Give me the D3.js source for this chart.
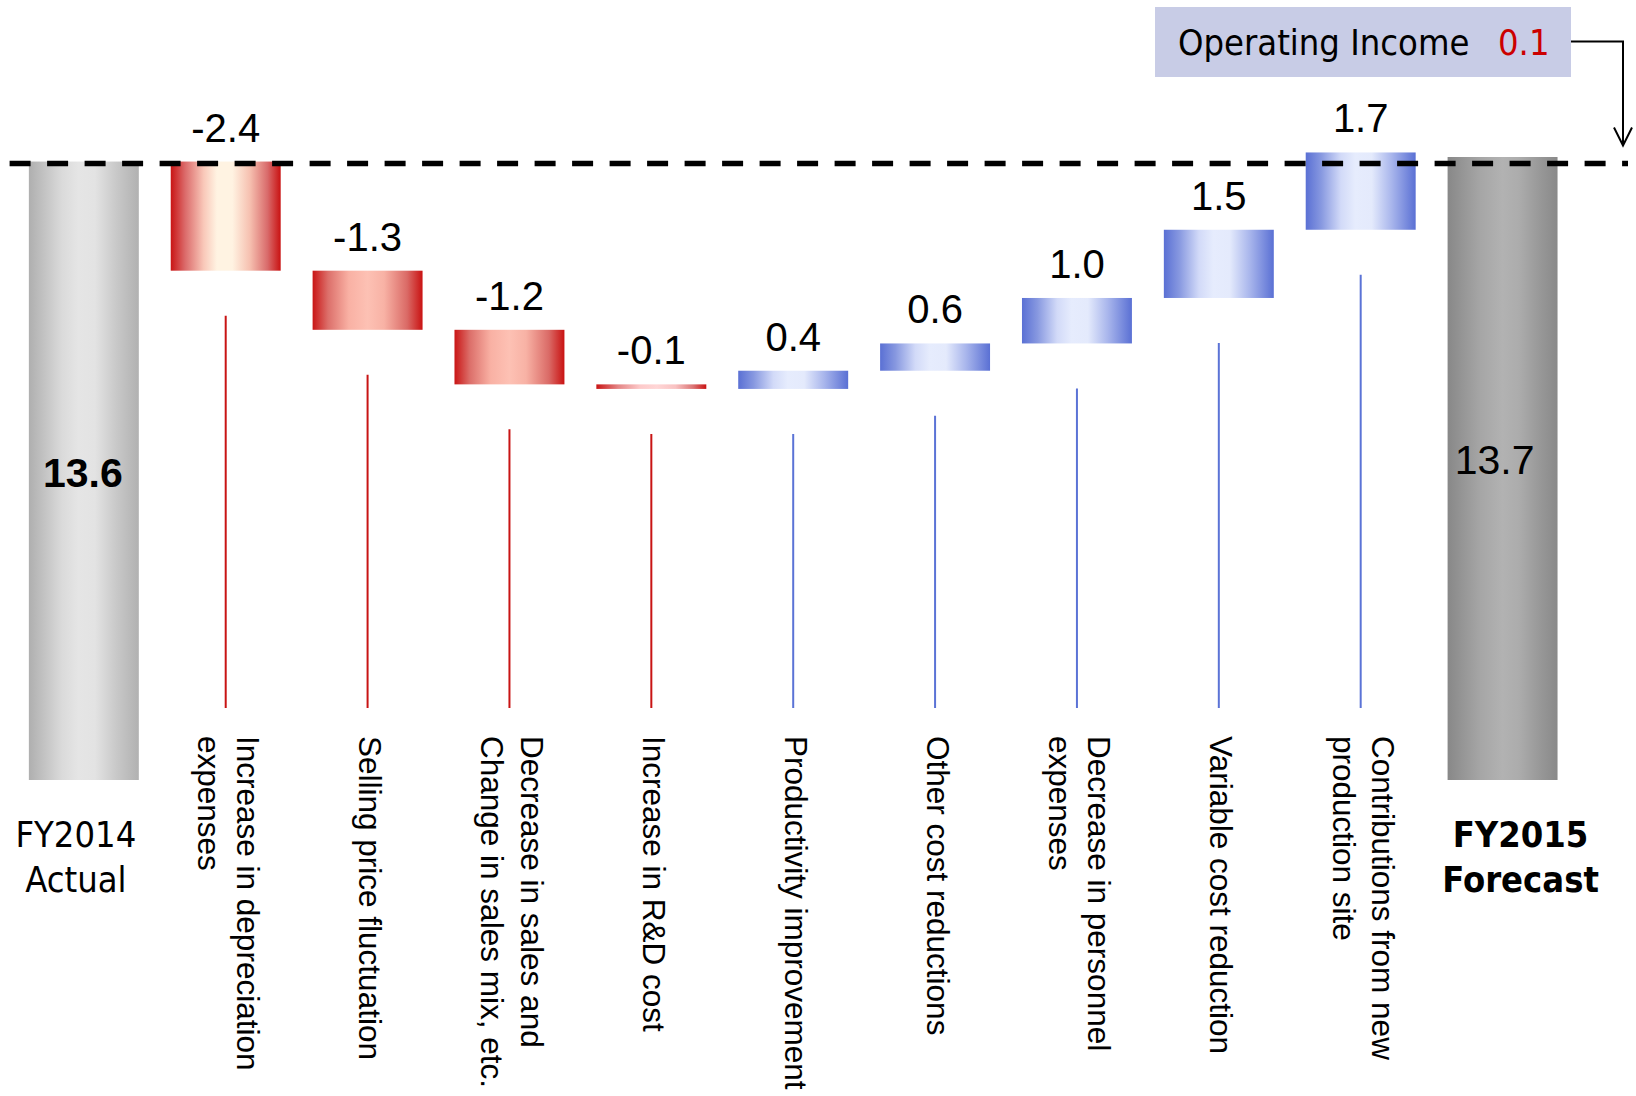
<!DOCTYPE html>
<html>
<head>
<meta charset="utf-8">
<script src="https://cdn.jsdelivr.net/npm/d3@7"></script>
<style>
  body { margin: 0; background: #fff; }
  svg { display: block; }
</style>
</head>
<body>
<svg id="chart" width="1636" height="1096"></svg>
<script>
// ---- data (billion yen) ----
const totalNames = [["FY2014", "Actual"], ["FY2015", "Forecast"]];
const totalValues = [13.6, 13.7];
const stepNames = [
  "Increase in depreciation\nexpenses",
  "Selling price fluctuation",
  "Decrease in sales and\nChange in sales mix, etc.",
  "Increase in R&D cost",
  "Productivity improvement",
  "Other cost reductions",
  "Decrease in personnel\nexpenses",
  "Variable cost reduction",
  "Contributions from new\nproduction site"
];
const stepValues = [-2.4, -1.3, -1.2, -0.1, 0.4, 0.6, 1.0, 1.5, 1.7];
const incomeChangeName = "Operating Income";
const incomeChange = 0.1;

// ---- build waterfall rows ----
const rows = [];
rows.push({ key: "start", kind: "total", y0: 0, y1: totalValues[0], value: totalValues[0] });
let running = totalValues[0];
stepValues.forEach((v, i) => {
  rows.push({ key: "step" + i, kind: "step", idx: i, y0: running, y1: running + v, value: v, name: stepNames[i] });
  running += v;
});
rows.push({ key: "end", kind: "total", y0: 0, y1: totalValues[1], value: totalValues[1] });

const svg = d3.select("#chart");

const x = d3.scaleBand()
  .domain(rows.map(d => d.key))
  .range([12.9, 1573.5])
  .paddingInner(0.225)
  .paddingOuter(0.1125);

const y = d3.scaleLinear()
  .domain([0, d3.max(totalValues)])
  .range([780, 157]);

const sans = "'Liberation Sans', Arial, Helvetica, sans-serif";
const tahoma = "'DejaVu Sans Condensed', 'DejaVu Sans', sans-serif";

// plain hyphen for negative numbers
const fmt = d3.formatLocale({ decimal: ".", thousands: ",", grouping: [3], currency: ["", ""], minus: "-" }).format(".1f");

// ---- horizontal gradients ----
const defs = svg.append("defs");
function grad(id, stops) {
  const g = defs.append("linearGradient").attr("id", id)
    .attr("x1", "0%").attr("x2", "100%").attr("y1", "0%").attr("y2", "0%");
  stops.forEach(([o, c]) => g.append("stop").attr("offset", o).attr("stop-color", c));
}
grad("gStart", [[0, "#afafaf"], [0.3, "#dadada"], [0.45, "#e5e5e5"], [0.6, "#e3e3e3"], [0.8, "#c8c8c8"], [1, "#b1b1b1"]]);
grad("gEnd", [[0, "#888888"], [0.3, "#a6a6a6"], [0.5, "#b2b2b2"], [0.65, "#acacac"], [0.85, "#979797"], [1, "#898989"]]);
grad("gRedCream", [[0, "#c91515"], [0.13, "#db6a6a"], [0.3, "#f9c8b9"], [0.42, "#fff3e2"], [0.56, "#fff3e2"], [0.72, "#f6c0b0"], [0.88, "#d96b6b"], [1, "#c91212"]]);
grad("gRedSalmon", [[0, "#c91515"], [0.14, "#dc6f6a"], [0.33, "#f9b1a4"], [0.5, "#fdc1b4"], [0.65, "#f8b2a5"], [0.86, "#da6a66"], [1, "#c91212"]]);
grad("gRedPale", [[0, "#c91515"], [0.2, "#e48686"], [0.4, "#fdcaca"], [0.55, "#ffd6d6"], [0.72, "#f9c2c2"], [0.88, "#db7575"], [1, "#c91212"]]);
grad("gBlue", [[0, "#5a70d4"], [0.14, "#8798e0"], [0.32, "#d2daf8"], [0.45, "#e6ecfd"], [0.6, "#e4eafc"], [0.78, "#a9b6ec"], [1, "#5a70d4"]]);

function fillFor(d) {
  if (d.key === "start") return "url(#gStart)";
  if (d.key === "end") return "url(#gEnd)";
  if (d.value > 0) return "url(#gBlue)";
  if (d.idx === 0) return "url(#gRedCream)";
  return Math.abs(d.value) < 0.5 ? "url(#gRedPale)" : "url(#gRedSalmon)";
}

// ---- bars ----
svg.append("g").selectAll("rect")
  .data(rows)
  .join("rect")
  .attr("x", d => x(d.key))
  .attr("width", x.bandwidth())
  .attr("y", d => y(Math.max(d.y0, d.y1)))
  .attr("height", d => Math.abs(y(d.y0) - y(d.y1)))
  .attr("fill", fillFor);

const steps = rows.filter(d => d.kind === "step");
const cx = d => x(d.key) + x.bandwidth() / 2;

// ---- leader lines from each step down to its label ----
const leaderEnd = 708;
svg.append("g").selectAll("line")
  .data(steps)
  .join("line")
  .attr("x1", cx).attr("x2", cx)
  .attr("y1", d => y(Math.min(d.y0, d.y1)) + 45)
  .attr("y2", leaderEnd)
  .attr("stroke", d => d.value < 0 ? "#c81414" : "#5b73d6")
  .attr("stroke-width", 2);

// ---- step value labels ----
svg.append("g").selectAll("text")
  .data(steps)
  .join("text")
  .attr("x", cx)
  .attr("y", d => y(Math.max(d.y0, d.y1)) - 20)
  .attr("text-anchor", "middle")
  .attr("font-family", sans)
  .attr("font-size", 40)
  .attr("fill", "#000")
  .text(d => fmt(d.value));

// ---- rotated category labels ----
const catFont = 31.5, catLead = 39.5, catTop = 736;
steps.forEach(d => {
  const lines = d.name.split("\n");
  const first = 0.36 * catFont - (lines.length - 1) * catLead / 2;
  const t = svg.append("text")
    .attr("transform", `translate(${cx(d) + 3},${catTop}) rotate(90)`)
    .attr("font-family", sans)
    .attr("font-size", catFont)
    .attr("fill", "#000");
  lines.forEach((line, k) => {
    t.append("tspan").attr("x", 0).attr("y", first + k * catLead).text(line);
  });
});

// ---- totals: value inside the bar and name below ----
const totals = rows.filter(d => d.kind === "total");
svg.append("g").selectAll("text")
  .data(totals)
  .join("text")
  .attr("x", d => cx(d) + (d.key === "start" ? -1 : -8))
  .attr("y", d => (y(0) + y(d.y1)) / 2 + (d.key === "start" ? 16 : 5))
  .attr("text-anchor", "middle")
  .attr("font-family", sans)
  .attr("font-size", 41)
  .attr("font-weight", d => d.key === "start" ? "bold" : "normal")
  .attr("fill", "#000")
  .text(d => fmt(d.value));

totals.forEach((d, i) => {
  const t = svg.append("text")
    .attr("text-anchor", "middle")
    .attr("font-family", tahoma)
    .attr("font-size", 36)
    .attr("font-weight", i === 1 ? "bold" : "normal")
    .attr("fill", "#000");
  const lx = cx(d) + (i === 0 ? -8 : 18);
  totalNames[i].forEach((line, k) => {
    t.append("tspan").attr("x", lx).attr("y", y(0) + 67 + k * 45).text(line);
  });
});

// ---- dashed reference line at the FY2014 level ----
svg.append("line")
  .attr("x1", 9.6).attr("x2", 1628)
  .attr("y1", y(totalValues[0]) + 2).attr("y2", y(totalValues[0]) + 2)
  .attr("stroke", "#000")
  .attr("stroke-width", 5.5)
  .attr("stroke-dasharray", "21 16.5");

// ---- operating income change callout ----
const box = { x: 1155, y: 7, w: 416, h: 70 };
svg.append("rect")
  .attr("x", box.x).attr("y", box.y)
  .attr("width", box.w).attr("height", box.h)
  .attr("fill", "#c8cce6");
const callout = svg.append("text")
  .attr("x", 1178).attr("y", 55)
  .attr("font-family", tahoma)
  .attr("font-size", 36)
  .attr("fill", "#000");
callout.append("tspan").text(incomeChangeName);
callout.append("tspan").attr("x", 1498).attr("fill", "#cc0000").text(fmt(incomeChange));

const arrowX = 1623, arrowTip = y(totalValues[0]) - 16;
svg.append("path")
  .attr("d", `M${box.x + box.w},41.5 H${arrowX} V${arrowTip}`)
  .attr("fill", "none").attr("stroke", "#000").attr("stroke-width", 2);
svg.append("path")
  .attr("d", `M${arrowX - 9},${arrowTip - 18} L${arrowX},${arrowTip} L${arrowX + 9},${arrowTip - 18}`)
  .attr("fill", "none").attr("stroke", "#000").attr("stroke-width", 2);
</script>
</body>
</html>
